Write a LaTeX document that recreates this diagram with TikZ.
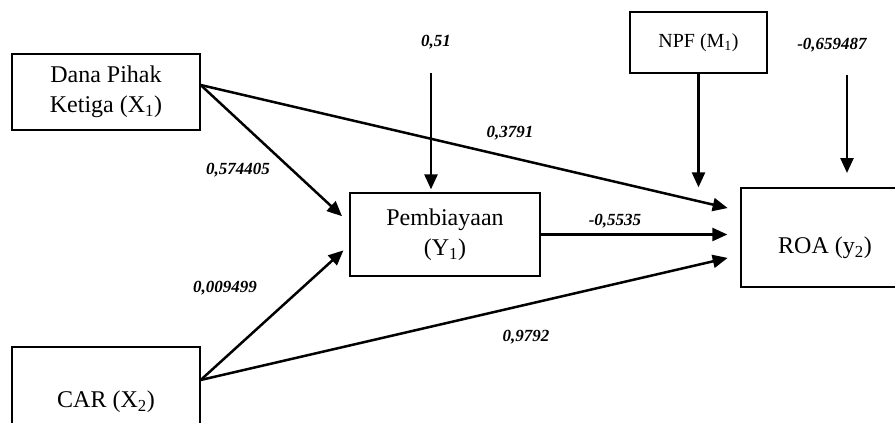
\documentclass[tikz,border=0pt]{standalone}
\usepackage{fontspec}
\setmainfont{Liberation Serif}
\usetikzlibrary{arrows.meta}

\begin{document}
\begin{tikzpicture}[x=1pt,y=1pt]
  \tikzstyle{nodeBox}=[rectangle,draw=black,line width=1.3pt,inner sep=0pt,align=center,font=\fontsize{24}{30}\selectfont]
  \tikzstyle{nodeW}=[inner sep=1pt,font=\fontsize{17}{20}\selectfont\bfseries\itshape]
  \tikzstyle{arr}=[line width=2.5pt,-{Triangle[length=15pt,width=13pt]}]

  \useasboundingbox (0,0) rectangle (895,-423);

  % Boxes
  \node[nodeBox, minimum width=188pt, minimum height=76pt]  (dpk)  at (106,-92)    {Dana Pihak\\Ketiga (X\textsubscript{1})};
  \node[nodeBox, minimum width=188pt, minimum height=110pt] (car)  at (106,-402)   {CAR (X\textsubscript{2})};
  \node[nodeBox, minimum width=190pt, minimum height=83pt]  (pemb) at (445,-234.5) {Pembiayaan\\(Y\textsubscript{1})};
  \node[nodeBox, minimum width=168pt, minimum height=99pt, text height=32pt, text depth=0pt] (roa) at (825,-237.5) {ROA (y\textsubscript{2})};
  \node[nodeBox, minimum width=137pt, minimum height=61pt, font=\fontsize{20}{24}\selectfont] (npf) at (698.5,-42.5) {NPF (M\textsubscript{1})};

  % Weights
  \node[nodeW] (w51)   at (436,-42)  {0,51};
  \node[nodeW] (w659)  at (832,-45)  {-0,659487};
  \node[nodeW] (w3791) at (510,-133) {0,3791};
  \node[nodeW] (w574)  at (238,-170) {0,574405};
  \node[nodeW] (w5535) at (615,-221) {-0,5535};
  \node[nodeW] (w009)  at (225,-288) {0,009499};
  \node[nodeW] (w9792) at (526,-337) {0,9792};

  \coordinate (p51)  at (431,-73);
  \coordinate (p659) at (847,-75);
  \coordinate (q659) at (847,-173);

  % Paths
  \draw[arr, shorten >=13pt] ([yshift=7pt]dpk.east)  -- ([yshift=26.5pt]roa.west);
  \draw[arr, shorten >=10pt] ([yshift=7pt]dpk.east)  -- ([yshift=11.5pt]pemb.west);
  \draw[arr, shorten >=8pt]  ([yshift=22pt]car.east) -- ([yshift=-10.5pt]pemb.west);
  \draw[arr, shorten >=13pt] ([yshift=22pt]car.east) -- ([yshift=-17.5pt]roa.west);
  \draw[arr, shorten >=13pt] (pemb.east) -- (pemb.east -| roa.west);
  \draw[arr] (npf.south) -- (npf.south |- roa.north);
  \draw[arr, shorten >=3pt] (p51) -- (p51 |- pemb.north);
  \draw[arr] (p659) -- (q659);
\end{tikzpicture}
\end{document}
